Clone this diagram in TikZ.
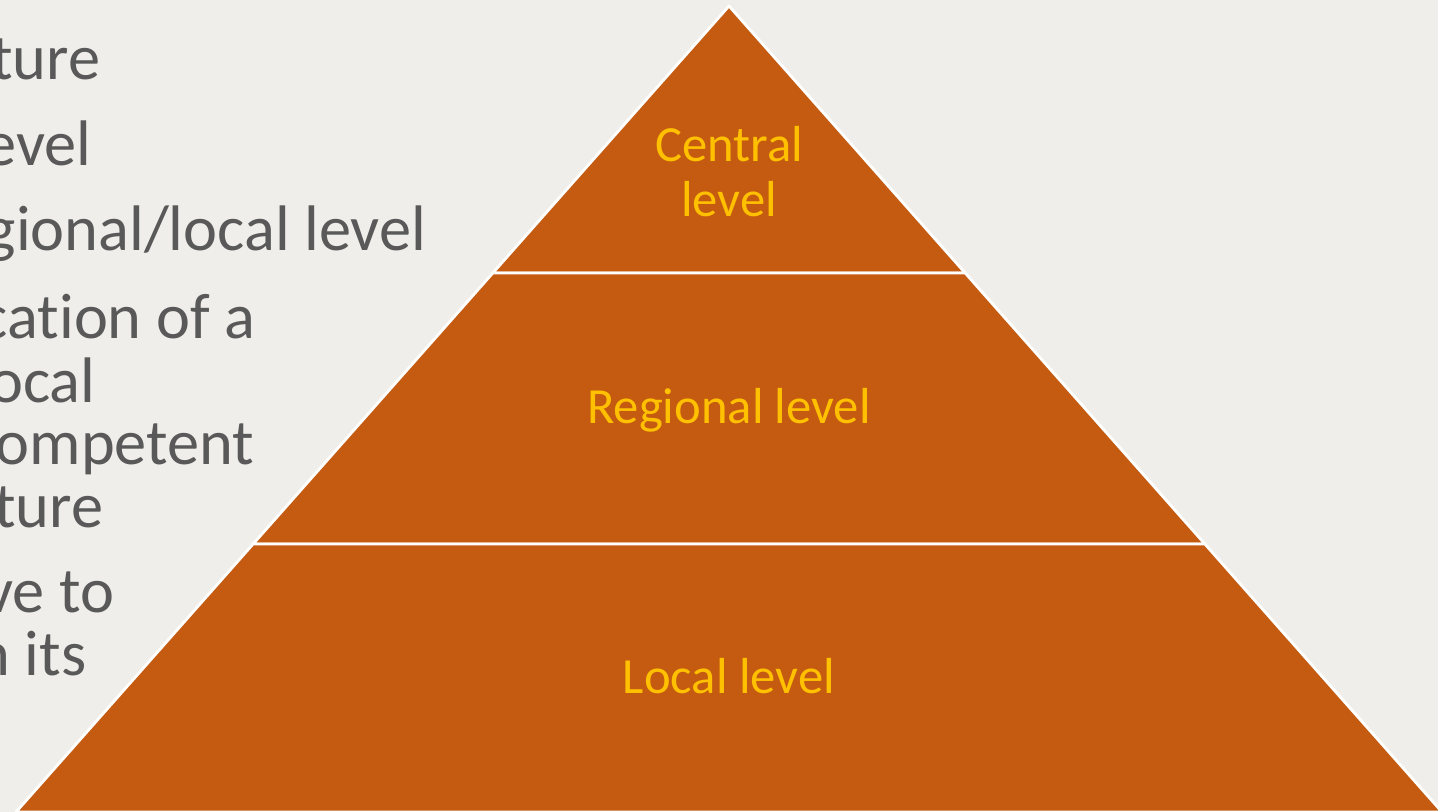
\documentclass[tikz,border=0pt]{standalone}
\usepackage{fontspec}
\setmainfont{Carlito}[Ligatures={NoCommon}]
\usetikzlibrary{positioning}

\definecolor{slidebg}{HTML}{EFEEEA}
\definecolor{tierfill}{HTML}{C55A11}
\definecolor{tiertext}{HTML}{FFC000}
\definecolor{bodytext}{HTML}{595959}

\begin{document}
\begin{tikzpicture}[x=0.01cm, y=-0.01cm,
        tier/.style={fill=tierfill, draw=white, line width=0.8pt, line join=round},
        tierlabel/.style={text=tiertext, inner sep=0pt, font=\fontsize{14.4}{15.4}\selectfont},
        bulletline/.style={text=bodytext, inner sep=0pt, anchor=base east, font=\fontsize{18.3}{19}\selectfont}]

        \fill[slidebg] (0,0) rectangle (1438,812);
        \useasboundingbox (0,0) rectangle (1438,812);

        % pyramid
        \coordinate (apex) at (729,6);
        \coordinate (t1l) at (492.8,273);
        \coordinate (t1r) at (965.2,273);
        \coordinate (t2l) at (253.1,544);
        \coordinate (t2r) at (1204.9,544);
        \coordinate (t3l) at (16,812);
        \coordinate (t3r) at (1442,812);

        \draw[tier] (apex) -- (t1r) -- (t1l) -- cycle;
        \draw[tier] (t1l) -- (t1r) -- (t2r) -- (t2l) -- cycle;
        \draw[tier] (t2l) -- (t2r) -- (t3r) -- (t3l) -- cycle;

        \node[tierlabel, align=center, anchor=base] (central) at (729,216) {Central\\level};
        \node[tierlabel, anchor=base] (regional) at (729,423) {Regional level};
        \node[tierlabel, anchor=base] (local) at (729,693) {Local level};

        % text cut off at the left edge
        \node[bulletline] (1) at (101,80) {ture};
        \node[bulletline] (2) at (92,166) {evel};
        \node[bulletline] (3) at (427,251) {gional/local level};
        \node[bulletline] (4) at (256,338) {cation of a};
        \node[bulletline] (5) at (96,402) {ocal};
        \node[bulletline] (6) at (255,464) {ompetent};
        \node[bulletline] (7) at (104,527) {ture};
        \node[bulletline] (8) at (115,612) {ve to};
        \node[bulletline] (9) at (87,675) {n its};

\end{tikzpicture}
\end{document}
